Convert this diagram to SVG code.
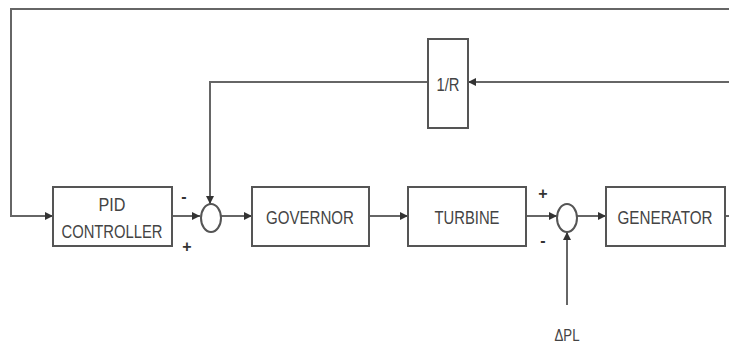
<svg xmlns="http://www.w3.org/2000/svg" width="729" height="344" viewBox="0 0 729 344">
<defs>
<marker id="ah" viewBox="0 0 10 10" refX="10" refY="5" markerWidth="4" markerHeight="4" orient="auto" markerUnits="strokeWidth">
<path d="M0,0 L10,5 L0,10 z" fill="#333"/>
</marker>
<style>
.box{fill:#fff;stroke:#555;stroke-width:2}
.sum{fill:#fff;stroke:#555;stroke-width:2}
.ln{fill:none;stroke:#666;stroke-width:2}
.t{font-family:"Liberation Sans",Arial,sans-serif;font-size:18px;fill:#444;text-anchor:middle}
.s{font-family:"Liberation Sans",Arial,sans-serif;font-size:16px;fill:#333;text-anchor:middle;font-weight:bold}
</style>
</defs>
<rect width="729" height="344" fill="#fff"/>
<g id="connectors">
<path class="ln" d="M729,9 H11 V216 H53" marker-end="url(#ah)"/>
<path class="ln" d="M172,216 H200" marker-end="url(#ah)"/>
<path class="ln" d="M428,82 H210 V204" marker-end="url(#ah)"/>
<path class="ln" d="M221,216 H252" marker-end="url(#ah)"/>
<path class="ln" d="M369,216 H408" marker-end="url(#ah)"/>
<path class="ln" d="M526,216 H557" marker-end="url(#ah)"/>
<path class="ln" d="M577,216 H606" marker-end="url(#ah)"/>
<path class="ln" d="M725,216 H729"/>
<path class="ln" d="M729,82 H468" marker-end="url(#ah)"/>
<path class="ln" d="M567,305 V232" marker-end="url(#ah)"/>
</g>
<g id="pid">
<rect class="box" x="53" y="187" width="119" height="59"/>
<text class="t" x="112" y="211" textLength="27" lengthAdjust="spacingAndGlyphs">PID</text>
<text class="t" x="112" y="238" textLength="101" lengthAdjust="spacingAndGlyphs">CONTROLLER</text>
</g>
<g id="sum1">
<ellipse class="sum" cx="211" cy="218" rx="10" ry="14"/>
<text class="s" x="184" y="202">-</text>
<text class="s" x="187" y="252">+</text>
</g>
<g id="governor">
<rect class="box" x="252" y="187" width="117" height="59"/>
<text class="t" x="310" y="224" textLength="88" lengthAdjust="spacingAndGlyphs">GOVERNOR</text>
</g>
<g id="turbine">
<rect class="box" x="408" y="187" width="118" height="59"/>
<text class="t" x="467" y="224" textLength="65" lengthAdjust="spacingAndGlyphs">TURBINE</text>
</g>
<g id="sum2">
<ellipse class="sum" cx="567" cy="218" rx="10" ry="14"/>
<text class="s" x="543" y="199">+</text>
<text class="s" x="543" y="246">-</text>
</g>
<g id="generator">
<rect class="box" x="606" y="187" width="119" height="59"/>
<text class="t" x="665" y="224" textLength="95" lengthAdjust="spacingAndGlyphs">GENERATOR</text>
</g>
<g id="droop">
<rect class="box" x="428" y="39" width="40" height="89"/>
<text class="t" x="448" y="91" textLength="23" lengthAdjust="spacingAndGlyphs">1/R</text>
</g>
<g id="load">
<text class="t" x="567" y="341" style="font-size:16px" textLength="25" lengthAdjust="spacingAndGlyphs">ΔPL</text>
</g>
</svg>
